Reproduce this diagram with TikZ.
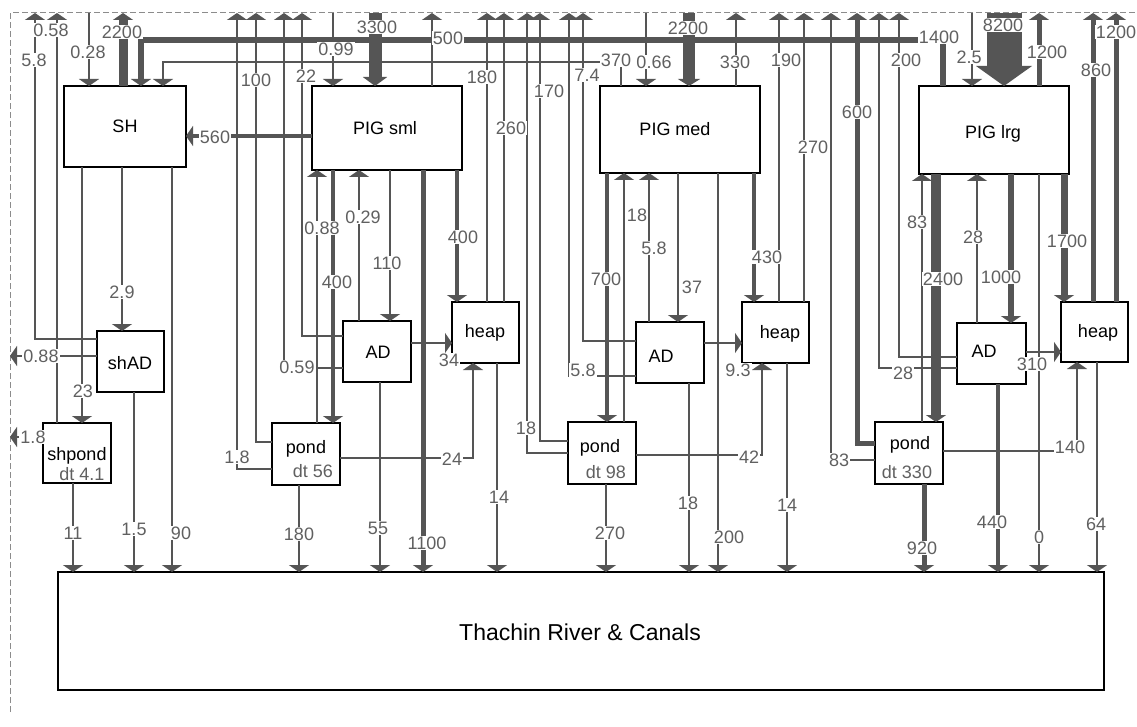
\documentclass[tikz,border=0pt]{standalone}
\usepackage{fontspec}
\setmainfont{Liberation Sans}
\usetikzlibrary{arrows.meta}
\definecolor{lc}{HTML}{555555}
\definecolor{tc}{HTML}{606060}
\definecolor{dc}{HTML}{8C8C8C}
\begin{document}
\begin{tikzpicture}[x=1pt,y=-1pt,
  box/.style={draw=black, line width=1.4pt, fill=white, inner sep=0pt, outer sep=0pt, rectangle},
  fl/.style={draw=lc, line width=2pt, -{Triangle[width=20pt,length=7pt]}},
  lab/.style={fill=white, inner sep=1pt, text=tc, font=\fontsize{18}{18}\selectfont},
  bt/.style={inner sep=0pt, anchor=base, font=\fontsize{18}{18}\selectfont},
  dtx/.style={bt, text=tc},
]
\fill[white] (0,0) rectangle (1137,727);
\useasboundingbox (0,0) rectangle (1137,727);
\draw[dc, line width=1pt, dash pattern=on 6pt off 3pt] (10,712) -- (10,13) -- (1137,13);
\coordinate (T) at (0,13);
\coordinate (L) at (10,0);

% boxes
\node[box, minimum width=122pt, minimum height=81pt] (SH) at (125,126.5) {};
\node[box, minimum width=150pt, minimum height=84pt] (PIGs) at (387,128) {};
\node[box, minimum width=160pt, minimum height=87pt] (PIGm) at (680,129.5) {};
\node[box, minimum width=150pt, minimum height=88pt] (PIGl) at (994,130) {};
\node[box, minimum width=67pt, minimum height=61pt] (shAD) at (130.5,361.5) {};
\node[box, minimum width=68pt, minimum height=60pt] (shpond) at (77,453) {};
\node[box, minimum width=68pt, minimum height=61pt] (ADs) at (377,351.5) {};
\node[box, minimum width=67pt, minimum height=61pt] (heaps) at (485.5,332.5) {};
\node[box, minimum width=68pt, minimum height=61pt] (ADm) at (670,352.5) {};
\node[box, minimum width=67pt, minimum height=61pt] (heapm) at (775.5,332.5) {};
\node[box, minimum width=69pt, minimum height=61pt] (ADl) at (991.5,353.5) {};
\node[box, minimum width=67pt, minimum height=60pt] (heapl) at (1094.5,332) {};
\node[box, minimum width=68pt, minimum height=62pt] (ponds) at (306,454) {};
\node[box, minimum width=68pt, minimum height=62pt] (pondm) at (602,453) {};
\node[box, minimum width=68pt, minimum height=62pt] (pondl) at (909,453) {};
\node[box, minimum width=1046pt, minimum height=118pt] (river) at (581,631) {};

% left group
\draw[fl] (shAD.west |- 0,339) -- (35,339) -- (35,0 |- T);
\draw[fl] (57,0 |- shpond.north) -- (57,0 |- T);
\draw[fl] (89,0 |- T) -- (89,0 |- SH.north);
\draw[fl, line width=9pt] (123,0 |- SH.north) -- (123,0 |- T);
\draw[fl, line width=6pt] (943,0 |- PIGl.north) -- (943,40) -- (141,40) -- (141,0 |- SH.north);
\draw[fl] (621,0 |- PIGm.north) -- (621,62) -- (163,62) -- (163,0 |- SH.north);
\draw[fl] (82,0 |- SH.south) -- (82,0 |- shpond.north);
\draw[fl] (122,0 |- SH.south) -- (122,0 |- shAD.north);
\draw[fl] (172,0 |- SH.south) -- (172,0 |- river.north);
\draw[fl, line width=4pt] (PIGs.west |- 0,136) -- (SH.east |- 0,136);
\draw[fl] (shAD.west |- 0,356) -- (L |- 0,356);
\draw[fl] (shpond.west |- 0,437) -- (L |- 0,437);
\draw[fl] (134,0 |- shAD.south) -- (134,0 |- river.north);
\draw[fl] (73,0 |- shpond.south) -- (73,0 |- river.north);

% small pig group
\draw[fl] (ponds.west |- 0,469) -- (237,469) -- (237,0 |- T);
\draw[fl] (ponds.west |- 0,442) -- (256,442) -- (256,0 |- T);
\draw[fl] (ADs.west |- 0,368) -- (284,368) -- (284,0 |- T);
\draw[fl] (ADs.west |- 0,336) -- (302,336) -- (302,0 |- T);
\draw[fl] (333,0 |- T) -- (333,0 |- PIGs.north);
\draw[fl, line width=13pt, -{Triangle[width=24pt,length=9pt]}] (375,0 |- T) -- (375,0 |- PIGs.north);
\draw[fl] (432,0 |- PIGs.north) -- (432,0 |- T);
\draw[fl] (317,0 |- ponds.north) -- (317,0 |- PIGs.south);
\draw[fl, line width=3.5pt] (333,0 |- PIGs.south) -- (333,0 |- ponds.north);
\draw[fl] (359,0 |- ADs.north) -- (359,0 |- PIGs.south);
\draw[fl] (390,0 |- PIGs.south) -- (390,0 |- ADs.north);
\draw[fl, line width=5pt] (423,0 |- PIGs.south) -- (423,0 |- river.north);
\draw[fl, line width=3.5pt] (457,0 |- PIGs.south) -- (457,0 |- heaps.north);
\draw[fl] (ADs.east |- 0,343) -- (heaps.west |- 0,343);
\draw[fl] (487,0 |- heaps.north) -- (487,0 |- T);
\draw[fl] (504,0 |- heaps.north) -- (504,0 |- T);
\draw[fl] (ponds.east |- 0,458) -- (473,458) -- (473,0 |- heaps.south);
\draw[fl] (497,0 |- heaps.south) -- (497,0 |- river.north);
\draw[fl] (380,0 |- ADs.south) -- (380,0 |- river.north);
\draw[fl] (299,0 |- ponds.south) -- (299,0 |- river.north);

% medium pig group
\draw[fl] (pondm.west |- 0,441) -- (540,441) -- (540,0 |- T);
\draw[fl] (pondm.west |- 0,453) -- (527,453) -- (527,0 |- T);
\draw[fl] (ADm.west |- 0,376) -- (569,376) -- (569,0 |- T);
\draw[fl] (ADm.west |- 0,341) -- (583,341) -- (583,0 |- T);
\draw[fl] (646,0 |- T) -- (646,0 |- PIGm.north);
\draw[fl, line width=12pt, -{Triangle[width=22pt,length=7pt]}] (689,0 |- T) -- (689,0 |- PIGm.north);
\draw[fl] (736,0 |- PIGm.north) -- (736,0 |- T);
\draw[fl] (779,0 |- heapm.north) -- (779,0 |- T);
\draw[fl] (804,0 |- heapm.north) -- (804,0 |- T);
\draw[fl, line width=4.5pt] (607,0 |- PIGm.south) -- (607,0 |- pondm.north);
\draw[fl] (624,0 |- pondm.north) -- (624,0 |- PIGm.south);
\draw[fl] (649,0 |- ADm.north) -- (649,0 |- PIGm.south);
\draw[fl] (678,0 |- PIGm.south) -- (678,0 |- ADm.north);
\draw[fl] (718,0 |- PIGm.south) -- (718,0 |- river.north);
\draw[fl, line width=4pt] (754,0 |- PIGm.south) -- (754,0 |- heapm.north);
\draw[fl] (ADm.east |- 0,343) -- (heapm.west |- 0,343);
\draw[fl] (pondm.east |- 0,455) -- (762,455) -- (762,0 |- heapm.south);
\draw[fl] (689,0 |- ADm.south) -- (689,0 |- river.north);
\draw[fl] (787,0 |- heapm.south) -- (787,0 |- river.north);
\draw[fl] (606,0 |- pondm.south) -- (606,0 |- river.north);

% large pig group
\draw[fl] (pondl.west |- 0,460) -- (831,460) -- (831,0 |- T);
\draw[fl, line width=5pt] (pondl.west |- 0,443) -- (857,443) -- (857,0 |- T);
\draw[fl] (ADl.west |- 0,368) -- (879,368) -- (879,0 |- T);
\draw[fl] (ADl.west |- 0,357) -- (899,357) -- (899,0 |- T);
\draw[fl] (972,0 |- T) -- (972,0 |- PIGl.north);
\draw[fl, line width=35pt, -{Triangle[width=55pt,length=20pt]}] (1004,0 |- T) -- (1004,0 |- PIGl.north);
\draw[fl, line width=5pt] (1039,0 |- PIGl.north) -- (1039,0 |- T);
\draw[fl, line width=5pt] (1093,0 |- heapl.north) -- (1093,0 |- T);
\draw[fl, line width=5pt] (1116,0 |- heapl.north) -- (1116,0 |- T);
\draw[fl] (922,0 |- pondl.north) -- (922,0 |- PIGl.south);
\draw[fl, line width=10pt] (936,0 |- PIGl.south) -- (936,0 |- pondl.north);
\draw[fl] (977,0 |- ADl.north) -- (977,0 |- PIGl.south);
\draw[fl, line width=6pt] (1011,0 |- PIGl.south) -- (1011,0 |- ADl.north);
\draw[fl] (1039,0 |- PIGl.south) -- (1039,0 |- river.north);
\draw[fl, line width=7pt] (1064,0 |- PIGl.south) -- (1064,0 |- heapl.north);
\draw[fl] (ADl.east |- 0,352) -- (heapl.west |- 0,352);
\draw[fl] (pondl.east |- 0,451) -- (1077,451) -- (1077,0 |- heapl.south);
\draw[fl, line width=4pt] (998,0 |- ADl.south) -- (998,0 |- river.north);
\draw[fl] (1097,0 |- heapl.south) -- (1097,0 |- river.north);
\draw[fl, line width=5pt] (924,0 |- pondl.south) -- (924,0 |- river.north);

% box texts
\node[bt] (SHt) at (125,133) {SH};
\node[bt] (PIGst) at (385,135) {PIG sml};
\node[bt] (PIGmt) at (675,136) {PIG med};
\node[bt] (PIGlt) at (993,139) {PIG lrg};
\node[bt] (shADt) at (130,369) {shAD};
\node[bt] (shpondt) at (77,460) {shpond};
\node[dtx] (shpondd) at (82,480) {dt 4.1};
\node[bt] (ADst) at (378,358) {AD};
\node[bt] (heapst) at (485,337) {heap};
\node[bt] (ADmt) at (661,362) {AD};
\node[bt] (heapmt) at (780,338) {heap};
\node[bt] (ADlt) at (984,357) {AD};
\node[bt] (heaplt) at (1098,337) {heap};
\node[bt] (pondst) at (306,453) {pond};
\node[dtx] (pondsd) at (313,477) {dt 56};
\node[bt] (pondmt) at (600,452) {pond};
\node[dtx] (pondmd) at (606,478) {dt 98};
\node[bt] (pondlt) at (910,449) {pond};
\node[dtx] (pondld) at (907,478) {dt 330};
\node[bt, font=\fontsize{23}{23}\selectfont] (rivert) at (580,640) {Thachin River \& Canals};

% flow labels
\node[lab] (l1) at (34,60) {5.8};
\node[lab] (l2) at (51,30) {0.58};
\node[lab] (l3) at (88,52) {0.28};
\node[lab] (l4) at (122,32) {2200};
\node[lab] (l5) at (448,38) {500};
\node[lab] (l6) at (939,37) {1400};
\node[lab] (l7) at (616,60) {370};
\node[lab] (l8) at (83,391) {23};
\node[lab] (l9) at (122,292) {2.9};
\node[lab] (l10) at (181,533) {90};
\node[lab] (l11) at (215,137) {560};
\node[lab] (l12) at (41,356) {0.88};
\node[lab] (l13) at (33,437) {1.8};
\node[lab] (l14) at (134,529) {1.5};
\node[lab] (l15) at (73,533) {11};
\node[lab] (l16) at (237,457) {1.8};
\node[lab] (l17) at (256,80) {100};
\node[lab] (l18) at (297,367) {0.59};
\node[lab] (l19) at (306,76) {22};
\node[lab] (l20) at (336,49) {0.99};
\node[lab] (l21) at (377,27) {3300};
\node[lab] (l22) at (322,228) {0.88};
\node[lab] (l23) at (337,282) {400};
\node[lab] (l24) at (363,217) {0.29};
\node[lab] (l25) at (387,263) {110};
\node[lab] (l26) at (427,543) {1100};
\node[lab] (l27) at (463,237) {400};
\node[lab] (l28) at (449,360) {34};
\node[lab] (l29) at (482,77) {180};
\node[lab] (l30) at (511,128) {260};
\node[lab] (l31) at (452,459) {24};
\node[lab] (l32) at (499,497) {14};
\node[lab] (l33) at (378,528) {55};
\node[lab] (l34) at (299,534) {180};
\node[lab] (l35) at (549,91) {170};
\node[lab] (l36) at (526,428) {18};
\node[lab] (l37) at (583,370) {5.8};
\node[lab] (l38) at (587,75) {7.4};
\node[lab] (l39) at (654,62) {0.66};
\node[lab] (l40) at (688,28) {2200};
\node[lab] (l41) at (735,62) {330};
\node[lab] (l42) at (786,60) {190};
\node[lab] (l43) at (813,147) {270};
\node[lab] (l44) at (606,279) {700};
\node[lab] (l45) at (637,215) {18};
\node[lab] (l46) at (654,248) {5.8};
\node[lab] (l47) at (692,287) {37};
\node[lab] (l48) at (729,537) {200};
\node[lab] (l49) at (767,257) {430};
\node[lab] (l50) at (738,370) {9.3};
\node[lab] (l51) at (749,457) {42};
\node[lab] (l52) at (688,503) {18};
\node[lab] (l53) at (787,505) {14};
\node[lab] (l54) at (610,533) {270};
\node[lab] (l55) at (839,460) {83};
\node[lab] (l56) at (857,112) {600};
\node[lab] (l57) at (903,373) {28};
\node[lab] (l58) at (906,60) {200};
\node[lab] (l59) at (969,57) {2.5};
\node[lab] (l60) at (1003,25) {8200};
\node[lab] (l61) at (1047,52) {1200};
\node[lab] (l62) at (1096,70) {860};
\node[lab] (l63) at (1116,32) {1200};
\node[lab] (l64) at (917,222) {83};
\node[lab] (l65) at (943,279) {2400};
\node[lab] (l66) at (973,237) {28};
\node[lab] (l67) at (1001,277) {1000};
\node[lab] (l68) at (1039,537) {0};
\node[lab] (l69) at (1067,241) {1700};
\node[lab] (l70) at (1032,364) {310};
\node[lab] (l71) at (1070,447) {140};
\node[lab] (l72) at (992,522) {440};
\node[lab] (l73) at (1096,524) {64};
\node[lab] (l74) at (922,548) {920};
\end{tikzpicture}
\end{document}
